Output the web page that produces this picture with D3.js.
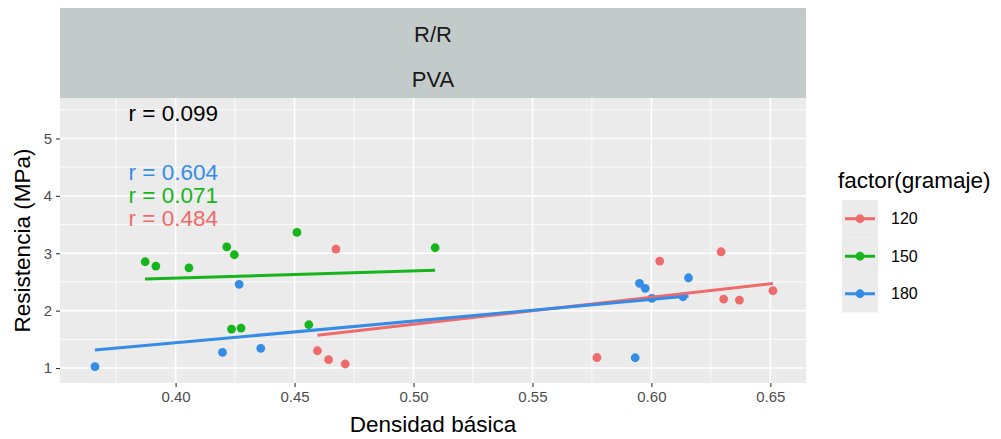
<!DOCTYPE html>
<html>
<head>
<meta charset="utf-8">
<script src="https://cdn.jsdelivr.net/npm/d3@7"></script>
<style>
  html, body { margin: 0; padding: 0; background: #ffffff; }
  svg text { font-family: "Liberation Sans", Arial, sans-serif; }
</style>
</head>
<body>
<svg id="chart" width="1001" height="439"></svg>
<script>
// Densidad básica vs. Resistencia, by gramaje (R/R, PVA)
const groups = ["120", "150", "180"];
const groupColors = ["#ef6a6a", "#17b51c", "#358ce6"];

const x120 = [0.4596, 0.4643, 0.4713, 0.4674, 0.5771, 0.6035, 0.6293, 0.6304, 0.6370, 0.6511];
const y120 = [1.301, 1.145, 1.070, 3.073, 1.183, 2.864, 3.026, 2.202, 2.185, 2.347];

const x150 = [0.3872, 0.3917, 0.4056, 0.4215, 0.4247, 0.4235, 0.4275, 0.4510, 0.4560, 0.5091];
const y150 = [2.852, 2.777, 2.747, 3.113, 2.974, 1.679, 1.697, 3.364, 1.754, 3.096];

const x180 = [0.3661, 0.4197, 0.4267, 0.4358, 0.5950, 0.5974, 0.6002, 0.6133, 0.6156, 0.5932];
const y180 = [1.023, 1.274, 2.458, 1.343, 2.476, 2.389, 2.214, 2.242, 2.573, 1.179];

// correlation labels: overall first, then per group (180, 150, 120)
const corrLabels = ["r = 0.099", "r = 0.604", "r = 0.071", "r = 0.484"];
const corrColors = ["#000000", "#358ce6", "#17b51c", "#ef6a6a"];
const corrX = [0.399, 0.399, 0.399, 0.399];
const corrY = [5.44, 4.40, 4.01, 3.61];

const xTicks = [0.40, 0.45, 0.50, 0.55, 0.60, 0.65];
const yTicks = [1, 2, 3, 4, 5];
const xMinor = [0.375, 0.425, 0.475, 0.525, 0.575, 0.625];
const yMinor = [1.5, 2.5, 3.5, 4.5, 5.5];
const stripLabels = ["R/R", "PVA"];

const seriesX = [x120, x150, x180];
const seriesY = [y120, y150, y180];

// layout
const panel = { left: 60, right: 806, top: 98, bottom: 383 };
const stripTop = 8;

const svg = d3.select("#chart");

const x = d3.scaleLinear().domain([0.3514, 0.6650]).range([panel.left, panel.right]);
const y = d3.scaleLinear().domain([0.739, 5.706]).range([panel.bottom, panel.top]);

// strips
const stripH = (panel.top - stripTop) / 2;
svg.append("rect")
  .attr("x", panel.left).attr("y", stripTop)
  .attr("width", panel.right - panel.left).attr("height", panel.top - stripTop)
  .attr("fill", "#c2caca");
stripLabels.forEach((s, i) => {
  svg.append("text")
    .attr("x", (panel.left + panel.right) / 2)
    .attr("y", stripTop + stripH * i + stripH / 2 + 4)
    .attr("text-anchor", "middle")
    .attr("dominant-baseline", "central")
    .attr("font-size", 22)
    .attr("fill", "#1a1a1a")
    .text(s);
});

// panel background
svg.append("rect")
  .attr("x", panel.left).attr("y", panel.top)
  .attr("width", panel.right - panel.left).attr("height", panel.bottom - panel.top)
  .attr("fill", "#ebebeb");

const grid = svg.append("g");
grid.selectAll(".xminor").data(xMinor).join("line")
  .attr("x1", d => x(d)).attr("x2", d => x(d))
  .attr("y1", panel.top).attr("y2", panel.bottom)
  .attr("stroke", "#ffffff").attr("stroke-width", 0.8);
grid.selectAll(".yminor").data(yMinor).join("line")
  .attr("x1", panel.left).attr("x2", panel.right)
  .attr("y1", d => y(d)).attr("y2", d => y(d))
  .attr("stroke", "#ffffff").attr("stroke-width", 0.8);
grid.selectAll(".xmajor").data(xTicks).join("line")
  .attr("x1", d => x(d)).attr("x2", d => x(d))
  .attr("y1", panel.top).attr("y2", panel.bottom)
  .attr("stroke", "#ffffff").attr("stroke-width", 1.6);
grid.selectAll(".ymajor").data(yTicks).join("line")
  .attr("x1", panel.left).attr("x2", panel.right)
  .attr("y1", d => y(d)).attr("y2", d => y(d))
  .attr("stroke", "#ffffff").attr("stroke-width", 1.6);

// least-squares fit over each group's x-range
function fit(xs, ys) {
  const mx = d3.mean(xs), my = d3.mean(ys);
  const sxy = d3.sum(xs, (v, i) => (v - mx) * (ys[i] - my));
  const sxx = d3.sum(xs, v => (v - mx) * (v - mx));
  const b = sxy / sxx, a = my - b * mx;
  const [x0, x1] = d3.extent(xs);
  return [[x0, a + b * x0], [x1, a + b * x1]];
}

const marks = svg.append("g");
const lineGen = d3.line().x(d => x(d[0])).y(d => y(d[1]));

seriesX.forEach((xs, gi) => {
  const pts = xs.map((v, i) => [v, seriesY[gi][i]]);
  marks.append("g").selectAll("circle").data(pts).join("circle")
    .attr("cx", d => x(d[0])).attr("cy", d => y(d[1]))
    .attr("r", 4.4)
    .attr("fill", groupColors[gi]);
});
seriesX.forEach((xs, gi) => {
  marks.append("path")
    .attr("d", lineGen(fit(xs, seriesY[gi])))
    .attr("fill", "none")
    .attr("stroke", groupColors[gi])
    .attr("stroke-width", 3);
});

// correlation annotations
corrLabels.forEach((t, i) => {
  svg.append("text")
    .attr("x", x(corrX[i])).attr("y", y(corrY[i]))
    .attr("text-anchor", "middle")
    .attr("dominant-baseline", "central")
    .attr("font-size", 22.5)
    .attr("fill", corrColors[i])
    .text(t);
});

// axes
const xAxis = d3.axisBottom(x).tickValues(xTicks).tickFormat(d3.format(".2f")).tickSize(4).tickPadding(4);
const yAxis = d3.axisLeft(y).tickValues(yTicks).tickFormat(d3.format("d")).tickSize(4).tickPadding(4);

const gx = svg.append("g").attr("transform", `translate(0,${panel.bottom})`).call(xAxis);
const gy = svg.append("g").attr("transform", `translate(${panel.left},0)`).call(yAxis);
[gx, gy].forEach(g => {
  g.select(".domain").remove();
  g.selectAll(".tick line").attr("stroke", "#333333").attr("stroke-width", 1.1);
  g.selectAll(".tick text").attr("fill", "#4d4d4d").attr("font-size", 15)
    .attr("font-family", "Liberation Sans, Arial, sans-serif");
});

svg.append("text")
  .attr("x", (panel.left + panel.right) / 2).attr("y", 432)
  .attr("text-anchor", "middle")
  .attr("font-size", 22.5).attr("fill", "#000000")
  .text("Densidad básica");

svg.append("text")
  .attr("transform", `translate(30,${(panel.top + panel.bottom) / 2}) rotate(-90)`)
  .attr("text-anchor", "middle")
  .attr("font-size", 22.5).attr("fill", "#000000")
  .text("Resistencia (MPa)");

// legend
const legend = svg.append("g").attr("transform", "translate(838,0)");
legend.append("text").attr("x", 0).attr("y", 188)
  .attr("font-size", 22.5).attr("fill", "#000000").text("factor(gramaje)");
const keyTop = 200, keyH = 37.5, keyW = 36;
groups.forEach((g, i) => {
  const cy = keyTop + keyH * i + keyH / 2;
  legend.append("rect").attr("x", 4).attr("y", keyTop + keyH * i)
    .attr("width", keyW).attr("height", keyH).attr("fill", "#ebebeb");
  legend.append("line").attr("x1", 7).attr("x2", 37).attr("y1", cy).attr("y2", cy)
    .attr("stroke", groupColors[i]).attr("stroke-width", 3);
  legend.append("circle").attr("cx", 22).attr("cy", cy).attr("r", 4.4).attr("fill", groupColors[i]);
  legend.append("text").attr("x", 53).attr("y", cy)
    .attr("dominant-baseline", "central")
    .attr("font-size", 16).attr("fill", "#000000").text(g);
});
</script>
</body>
</html>
